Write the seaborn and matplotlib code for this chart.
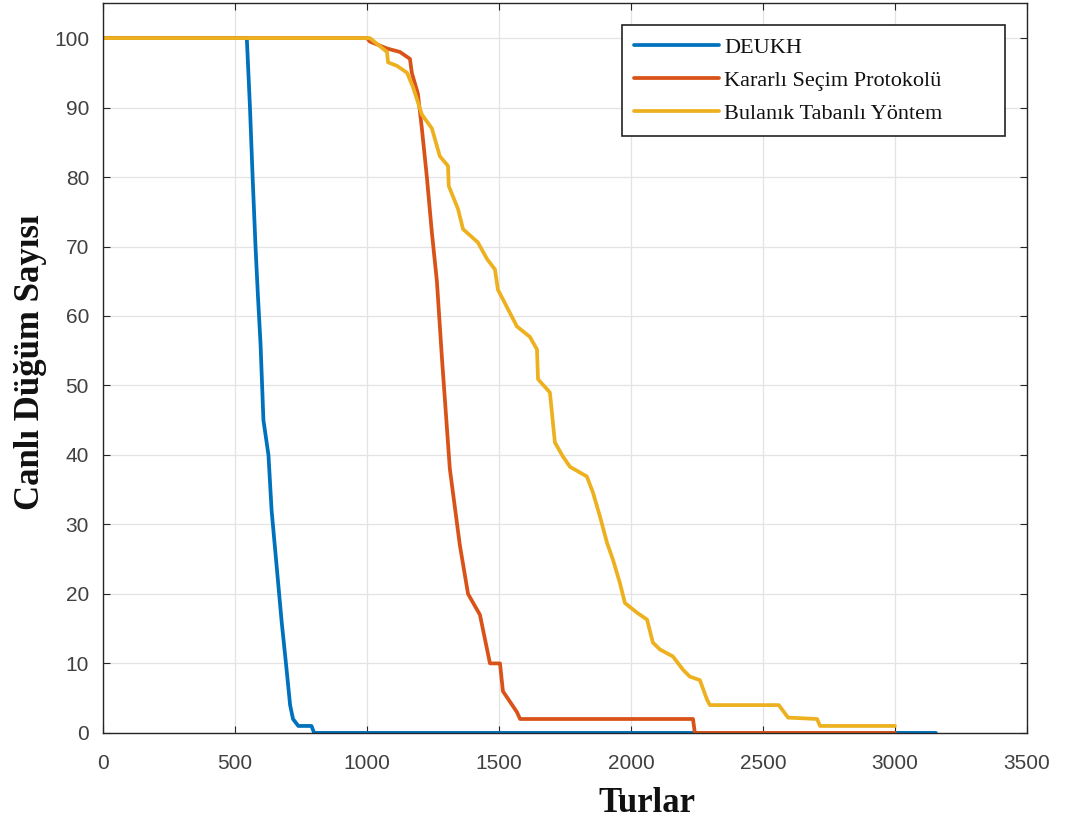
import matplotlib
matplotlib.use("Agg")
import matplotlib.pyplot as plt
import seaborn as sns
import pandas as pd

# ---- data ----
deukh_x = [0, 545, 557, 567, 578, 587, 597, 608, 627, 639, 658, 677, 696, 709, 720, 740, 790, 800, 3155]
deukh_y = [100, 100, 90, 80, 70, 63, 56, 45, 40, 32, 24, 16, 9, 4, 2, 1, 1, 0, 0]

kararli_x = [0, 1000, 1011, 1076, 1125, 1163, 1170, 1193, 1208, 1227, 1246, 1265, 1284, 1314,
             1352, 1383, 1428, 1466, 1504, 1515, 1568, 1580, 2235, 2242, 3000]
kararli_y = [100, 100, 99.5, 98.5, 98, 97, 95, 92, 87, 80, 72, 65, 54, 38,
             27, 20, 17, 10, 10, 6, 3, 2, 2, 0, 0]

bulanik_x = [0, 1000, 1011, 1076, 1080, 1114, 1152, 1174, 1208, 1246, 1276, 1307, 1310, 1345,
             1364, 1420, 1455, 1485, 1496, 1568, 1617, 1644, 1648, 1693, 1712, 1742, 1769, 1833,
             1856, 1883, 1909, 1932, 1958, 1977, 2023, 2061, 2083, 2110, 2159, 2197, 2223, 2261,
             2288, 2299, 2560, 2595, 2705, 2716, 3000]
bulanik_y = [100, 100, 100, 98, 96.5, 96, 95, 93, 89, 87, 83, 81.6, 78.7, 75.4,
             72.5, 70.6, 68.2, 66.7, 63.8, 58.5, 57, 55.2, 50.9, 49, 41.8, 39.8, 38.3, 36.9,
             34.6, 31.1, 27.4, 24.9, 21.6, 18.7, 17.3, 16.3, 13, 12, 11, 9.1, 8.1, 7.6,
             4.8, 4, 4, 2.2, 2, 1, 1]

series_names = ["DEUKH", "Kararlı Seçim Protokolü", "Bulanık Tabanlı Yöntem"]
colors = ["#0072BD", "#D95319", "#EDB120"]
x_ticks = [0, 500, 1000, 1500, 2000, 2500, 3000, 3500]
y_ticks = [0, 10, 20, 30, 40, 50, 60, 70, 80, 90, 100]
x_label = "Turlar"
y_label = "Canlı Düğüm Sayısı"

frames = []
for name, xs, ys in zip(series_names, [deukh_x, kararli_x, bulanik_x], [deukh_y, kararli_y, bulanik_y]):
    frames.append(pd.DataFrame({"Turlar": xs, "Canli": ys, "seri": name}))
df = pd.concat(frames, ignore_index=True)

sns.set_theme(style="white")
plt.rcParams["font.family"] = ["Liberation Sans", "DejaVu Sans"]

fig = plt.figure(figsize=(10.72, 8.30), dpi=100)
ax = fig.add_axes([0.096, 0.117, 0.862, 0.879])

sns.lineplot(data=df, x="Turlar", y="Canli", hue="seri", hue_order=series_names,
             palette=colors, sort=False, estimator=None, linewidth=2.7, ax=ax)

ax.set_xlim(0, 3500)
ax.set_ylim(0, 105)
ax.set_xticks(x_ticks)
ax.set_yticks(y_ticks)
ax.grid(True, color="#e3e3e3", linewidth=0.9)
ax.set_axisbelow(True)
for sp in ax.spines.values():
    sp.set_visible(True)
    sp.set_color("#262626")
    sp.set_linewidth(1.0)
ax.tick_params(direction="in", length=5, width=0.8, colors="#262626",
               labelsize=15, labelcolor="#404040", top=True, right=True,
               left=True, bottom=True)
ax.tick_params(axis="x", pad=15)
ax.tick_params(axis="y", pad=10)

serif = ["Liberation Serif", "DejaVu Serif"]
ax.set_xlabel(x_label, fontsize=25, fontweight="bold", family=serif, color="#111111")
ax.set_ylabel(y_label, fontsize=25, fontweight="bold", family=serif, color="#111111")
ax.xaxis.set_label_coords(0.589, -0.074)
ax.yaxis.set_label_coords(-0.060, 0.508)

leg = ax.legend(loc="upper right", bbox_to_anchor=(0.5617, 0.815, 0.4145, 0.155),
                mode="expand", borderaxespad=0,
                frameon=True, fancybox=False,
                edgecolor="#222222", framealpha=1, handlelength=3.8, handletextpad=0.25,
                labelspacing=0.55, borderpad=0.55,
                prop={"family": serif, "size": 16})
leg.get_frame().set_linewidth(1.2)
for t in leg.get_texts():
    t.set_color("#111111")

fig.savefig("out.png", dpi=100)
